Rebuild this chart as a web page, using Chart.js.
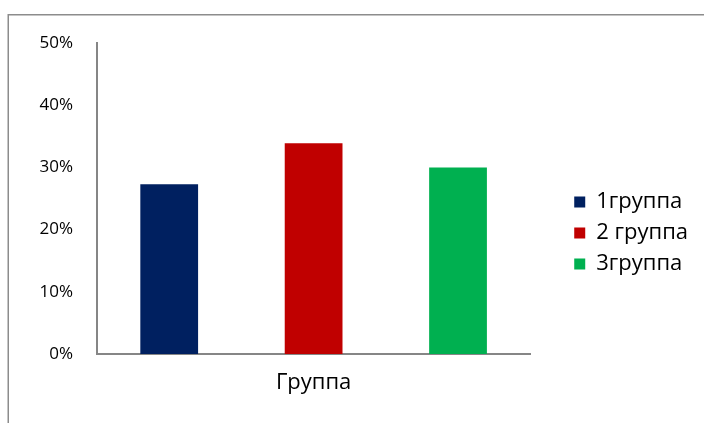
<!DOCTYPE html>
<html>
<head>
<meta charset="utf-8">
<script src="https://cdn.jsdelivr.net/npm/chart.js@4/dist/chart.umd.min.js"></script>
<style>
  html, body { margin: 0; padding: 0; background: #ffffff; }
  #wrap { width: 704px; height: 423px; }
</style>
</head>
<body>
<div id="wrap"><canvas id="c" width="704" height="423"></canvas></div>
<script>
// Share of each group, in percent
const categories = ['Группа'];
const seriesNames = ['1группа', '2 группа', '3группа'];
const seriesValues = [[27.3], [33.9], [30.0]];
const seriesColors = ['#002060', '#C00000', '#00B050'];
const yTicks = [0, 10, 20, 30, 40, 50];

const FONT = '"Open Sans", "Liberation Sans", sans-serif';

// Thin gray frame around the whole chart
const frame = {
  id: 'frame',
  beforeDraw(chart) {
    const ctx = chart.ctx;
    ctx.save();
    ctx.fillStyle = '#ffffff';
    ctx.fillRect(0, 0, chart.width, chart.height);
    ctx.strokeStyle = '#8c8c8c';
    ctx.lineWidth = 1.5;
    ctx.strokeRect(8.25, 14.75, chart.width + 20, chart.height + 20);
    ctx.restore();
  }
};

function draw() {
  new Chart(document.getElementById('c'), {
    type: 'bar',
    data: {
      labels: categories,
      datasets: seriesNames.map((name, i) => ({
        label: name,
        data: seriesValues[i],
        backgroundColor: seriesColors[i],
        borderWidth: 0,
        categoryPercentage: 1.0,
        barPercentage: 0.4
      }))
    },
    options: {
      responsive: false,
      animation: false,
      layout: { padding: { left: 8, top: 43, right: 6, bottom: 0 } },
      plugins: {
        tooltip: { enabled: false },
        legend: {
          position: 'right',
          align: 'center',
          maxWidth: 140,
          labels: {
            boxWidth: 11,
            boxHeight: 11,
            padding: 9,
            color: '#000000',
            font: { family: FONT, size: 22 }
          }
        }
      },
      scales: {
        x: {
          grid: { display: false, drawTicks: false },
          border: { display: true, color: '#868686', width: 2 },
          ticks: { color: '#000000', padding: 16, font: { family: FONT, size: 22 } },
          afterFit(scale) { scale.height = 423 - 354; }
        },
        y: {
          min: 0,
          max: 50,
          afterBuildTicks(scale) { scale.ticks = yTicks.map(v => ({ value: v })); },
          grid: { display: false, drawTicks: false },
          border: { display: true, color: '#868686', width: 2 },
          ticks: {
            color: '#000000',
            padding: 24,
            font: { family: FONT, size: 17 },
            callback: v => v + '%'
          },
          afterFit(scale) { scale.width = 97 - 8; }
        },
        gap: {
          position: 'right',
          display: true,
          grid: { display: false, drawTicks: false },
          border: { display: false },
          ticks: { display: false },
          afterFit(scale) { scale.width = 35; }
        }
      }
    },
    plugins: [frame]
  });
}

// Make sure the text font is ready before the legend measures its labels
Promise.all([
  document.fonts.load('22px "Open Sans"', 'Группа 1'),
  document.fonts.load('17px "Open Sans"', '50%')
]).then(draw, draw);
</script>
</body>
</html>
